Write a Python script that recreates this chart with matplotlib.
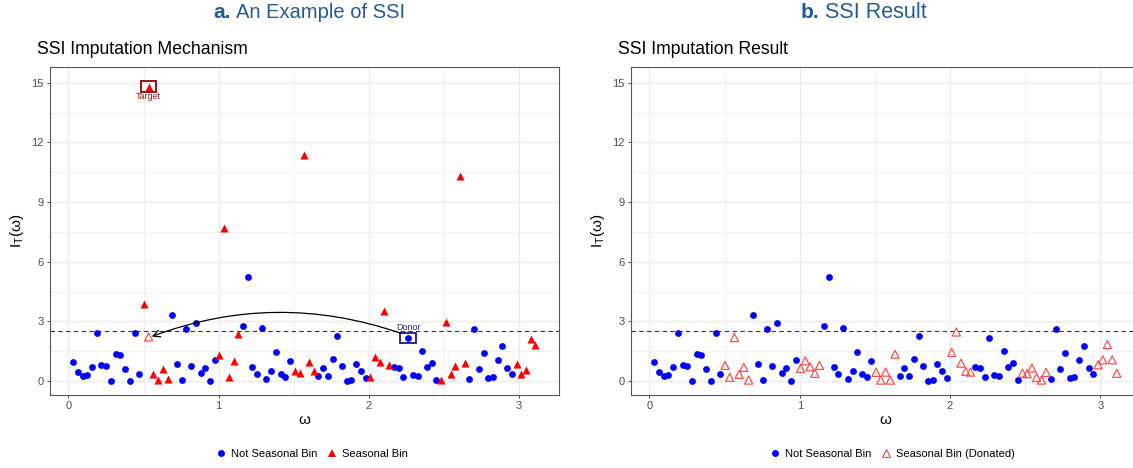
import matplotlib
matplotlib.use("Agg")
import matplotlib.pyplot as plt
from matplotlib.patches import Rectangle, FancyArrowPatch
from matplotlib.lines import Line2D

plt.rcParams['font.family'] = ['Liberation Sans', 'DejaVu Sans']

# ---------------- data ----------------
omega_ns = [0.031, 0.063, 0.094, 0.126, 0.157, 0.188, 0.220, 0.251, 0.283, 0.314,
            0.346, 0.377, 0.408, 0.440, 0.471,
            0.691, 0.723, 0.754, 0.785, 0.817, 0.848, 0.880, 0.911, 0.942, 0.974,
            1.162, 1.194, 1.225, 1.257, 1.288, 1.319, 1.351, 1.382, 1.414, 1.445, 1.477,
            1.665, 1.696, 1.728, 1.759, 1.791, 1.822, 1.854, 1.885, 1.916, 1.948, 1.979,
            2.168, 2.199, 2.231, 2.262, 2.293, 2.325, 2.356, 2.388, 2.419, 2.450,
            2.670, 2.702, 2.733, 2.765, 2.796, 2.827, 2.859, 2.890, 2.922, 2.953]
value_ns = [0.97, 0.44, 0.25, 0.32, 0.70, 2.44, 0.82, 0.74, 0.02, 1.34,
            1.30, 0.59, 0.02, 2.44, 0.38,
            3.30, 0.84, 0.03, 2.61, 0.77, 2.91, 0.40, 0.64, 0.02, 1.04,
            2.79, 5.23, 0.70, 0.38, 2.69, 0.12, 0.52, 1.47, 0.37, 0.20, 1.00,
            0.27, 0.64, 0.25, 1.10, 2.27, 0.77, 0.00, 0.03, 0.84, 0.50, 0.17,
            0.69, 0.64, 0.22, 2.17, 0.30, 0.27, 1.49, 0.70, 0.90, 0.05,
            0.12, 2.61, 0.59, 1.39, 0.14, 0.20, 1.05, 1.77, 0.64, 0.35]

omega_s = [0.503, 0.534, 0.565, 0.597, 0.628, 0.660,
           1.005, 1.037, 1.068, 1.100, 1.131,
           1.508, 1.539, 1.571, 1.602, 1.634,
           2.011, 2.042, 2.073, 2.105, 2.136,
           2.482, 2.513, 2.545, 2.576, 2.608, 2.639,
           2.985, 3.016, 3.047, 3.079, 3.110]
value_s = [3.90, 14.80, 0.38, 0.03, 0.59, 0.10,
           1.30, 7.71, 0.20, 1.00, 2.36,
           0.50, 0.42, 11.35, 0.97, 0.52,
           0.20, 1.22, 0.97, 3.53, 0.80,
           0.03, 2.96, 0.37, 0.74, 10.30, 0.90,
           0.84, 0.37, 0.54, 2.12, 1.82]
value_donated = [0.79, 0.19, 2.19, 0.34, 0.69, 0.05,
                 0.64, 1.02, 0.72, 0.39, 0.79,
                 0.44, 0.05, 0.45, 0.05, 1.35,
                 1.44, 2.47, 0.90, 0.49, 0.45,
                 0.40, 0.37, 0.65, 0.18, 0.05, 0.44,
                 0.82, 1.07, 1.84, 1.07, 0.39]

threshold = 2.5
target_omega, target_value, target_imputed = 0.534, 14.80, 2.22
donor_omega, donor_value = 2.262, 2.17

x_ticks = [0, 1, 2, 3]
y_ticks = [0, 3, 6, 9, 12, 15]

# ---------------- styling ----------------
BLUE = '#0000FF'
RED = '#FF0000'
LRED = '#FF4D4D'
TITLE_C = '#1F5C99'
GRID = '#EBEBEB'

W, H = 1133, 468
fig = plt.figure(figsize=(W / 100, H / 100), dpi=100)


def px_axes(x0, x1, y0, y1):
    return fig.add_axes([x0 / W, 1 - y1 / H, (x1 - x0) / W, (y1 - y0) / H])


def style(ax):
    ax.set_xlim(-0.123, 3.264)
    ax.set_ylim(-0.70, 15.79)
    ax.set_xticks(x_ticks)
    ax.set_yticks(y_ticks)
    ax.set_xticks([0.5, 1.5, 2.5], minor=True)
    ax.set_yticks([1.5, 4.5, 7.5, 10.5, 13.5], minor=True)
    ax.grid(True, which='major', color=GRID, lw=0.9, zorder=0)
    ax.grid(True, which='minor', color=GRID, lw=0.5, zorder=0)
    ax.set_axisbelow(True)
    ax.tick_params(which='major', length=2.5, width=0.6, color='#333333',
                   labelsize=8, labelcolor='#4D4D4D', pad=2)
    ax.tick_params(which='minor', length=0)
    for s in ax.spines.values():
        s.set_color('#555555')
        s.set_linewidth(0.8)
    ax.set_xlabel('ω', fontsize=11, labelpad=1)
    ax.set_ylabel(r'I$_\mathregular{T}$(ω)', fontsize=11, labelpad=4)
    ax.axhline(threshold, color='#333333', lw=0.8, ls=(0, (4, 3)), zorder=1)


# ---------------- left panel ----------------
axL = px_axes(50, 558.5, 67, 395)
style(axL)
axL.scatter(omega_ns, value_ns, s=24, color=BLUE, marker='o', lw=0, zorder=3)
axL.scatter(omega_s, value_s, s=34, color=RED, marker='^', lw=0, zorder=3)
axL.scatter([target_omega], [target_imputed], s=34, marker='^',
            facecolor='none', edgecolor=LRED, lw=0.9, zorder=3)

axL.add_patch(Rectangle((target_omega - 0.052, target_value - 0.27), 0.104, 0.55,
                        fill=False, edgecolor='#8B0000', lw=1.3, zorder=4))
axL.text(target_omega, 14.33, 'Target', color='#9B1B1B', fontsize=6.5,
         ha='center', va='center', zorder=5)
axL.add_patch(Rectangle((donor_omega - 0.051, donor_value - 0.24), 0.102, 0.48,
                        fill=False, edgecolor='#1A1A80', lw=1.3, zorder=4))
axL.text(donor_omega, 2.68, 'Donor', color='#2B2B99', fontsize=6.5,
         ha='center', va='center', zorder=5)

arrow = FancyArrowPatch((2.215, 2.40), (0.555, 2.24),
                        connectionstyle='arc3,rad=0.18',
                        arrowstyle='->,head_length=5,head_width=2.5',
                        color='black', lw=0.9, zorder=4, shrinkA=0, shrinkB=0)
axL.add_patch(arrow)

# ---------------- right panel ----------------
axR = px_axes(631, 1140, 67, 395)
style(axR)
axR.scatter(omega_ns, value_ns, s=24, color=BLUE, marker='o', lw=0, zorder=3)
axR.scatter(omega_s, value_donated, s=34, marker='^', facecolor='none',
            edgecolor=LRED, lw=0.9, zorder=3)

# ---------------- titles ----------------
fig.text(231 / W, 1 - 13 / H, 'a.', fontsize=15, fontweight='bold', color=TITLE_C,
         ha='right', va='center')
fig.text(236 / W, 1 - 13 / H, 'An Example of SSI', fontsize=14.5, color=TITLE_C,
         ha='left', va='center')
fig.text(819 / W, 1 - 13 / H, 'b.', fontsize=15, fontweight='bold', color=TITLE_C,
         ha='right', va='center')
fig.text(825 / W, 1 - 13 / H, 'SSI Result', fontsize=15.5, color=TITLE_C,
         ha='left', va='center')

fig.text(37 / W, 1 - 50 / H, 'SSI Imputation Mechanism', fontsize=12.7,
         ha='left', va='center')
fig.text(618 / W, 1 - 50 / H, 'SSI Imputation Result', fontsize=12.7,
         ha='left', va='center')

# ---------------- legends ----------------
hL = [Line2D([], [], ls='none', marker='o', color=BLUE, markersize=5, mew=0),
      Line2D([], [], ls='none', marker='^', color=RED, markersize=6, mew=0)]
fig.legend(hL, ['Not Seasonal Bin', 'Seasonal Bin'], loc='center',
           bbox_to_anchor=(312 / W, 1 - 454 / H), ncol=2, frameon=False,
           fontsize=8, handlelength=1.0, handletextpad=0.4, columnspacing=0.8)
hR = [Line2D([], [], ls='none', marker='o', color=BLUE, markersize=5, mew=0),
      Line2D([], [], ls='none', marker='^', markerfacecolor='none',
             markeredgecolor=LRED, markersize=6, mew=0.9)]
fig.legend(hR, ['Not Seasonal Bin', 'Seasonal Bin (Donated)'], loc='center',
           bbox_to_anchor=(892 / W, 1 - 454 / H), ncol=2, frameon=False,
           fontsize=8, handlelength=1.0, handletextpad=0.4, columnspacing=0.8)

fig.savefig('out.png', dpi=100)
